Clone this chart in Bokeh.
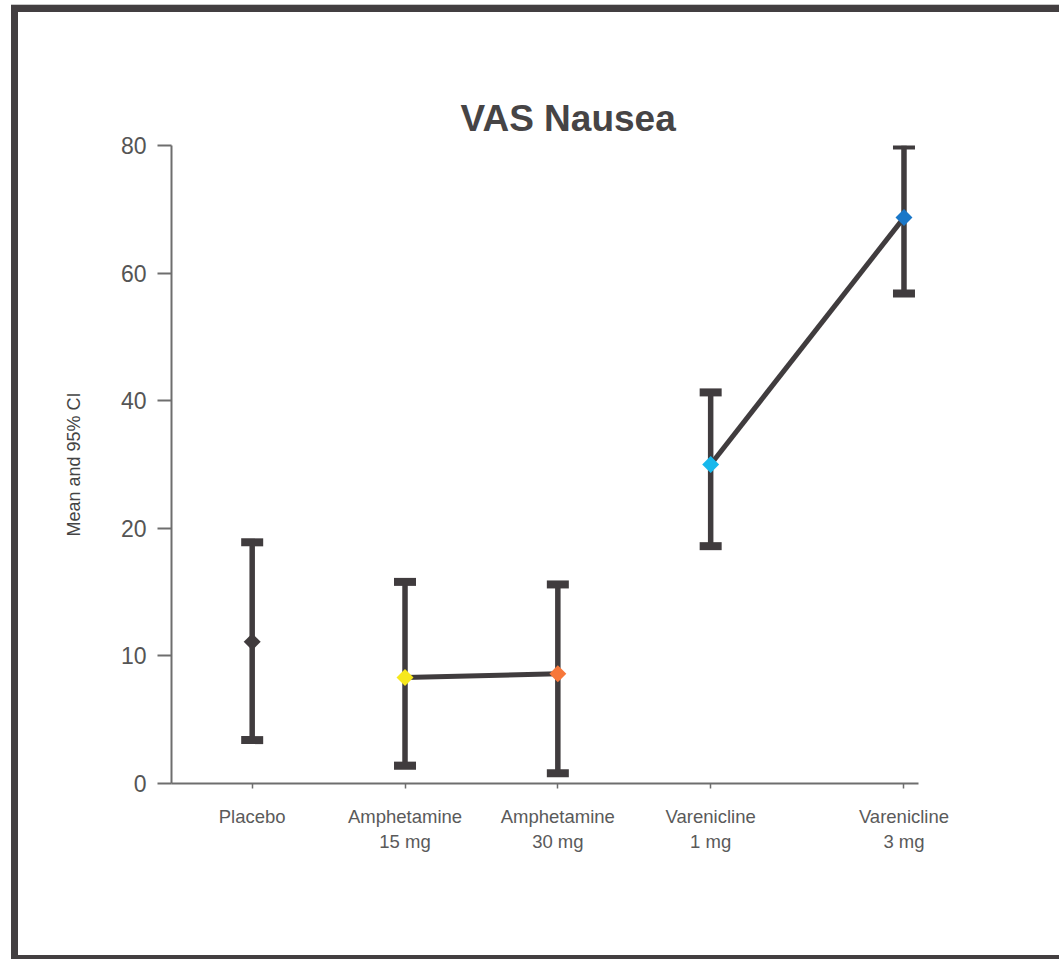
import numpy as np
from bokeh.plotting import figure
from bokeh.models import FixedTicker, Range1d
from bokeh.embed import file_html
from bokeh.resources import INLINE

# ---- data ----
categories = ["Placebo", "Amphetamine\n15 mg", "Amphetamine\n30 mg", "Varenicline\n1 mg", "Varenicline\n3 mg"]
means = [11.1, 8.3, 8.6, 30.0, 68.7]
ci_lower = [3.4, 1.4, 0.8, 18.6, 56.8]
ci_upper = [18.9, 15.8, 15.6, 41.3, 80.3]
marker_colors = ["#403b3d", "#f7e81c", "#f7773a", "#17b8ec", "#1a77c8"]
y_tick_values = [0, 10, 20, 40, 60, 80]
# joined pairs (indices)
links = [(1, 2), (3, 4)]

# ---- layout (category positions on the x axis, uneven like the original) ----
x_pos = [1, 2, 3, 4, 5.265]

# piecewise y axis: tick values are equally spaced
tick_slots = list(range(len(y_tick_values)))
def ymap(v):
    return np.interp(v, y_tick_values, tick_slots)

DARK = "#403c3e"
AXIS = "#6e6e6e"
TXT = "#555555"
FONT = "Liberation Sans"
FRAME = "#433f41"

W, H = 1048, 954
p = figure(width=W, height=H, output_backend="svg", toolbar_location=None,
           x_range=Range1d(0.472, 5.36), y_range=Range1d(0, 5),
           min_border_left=153, min_border_right=148,
           min_border_top=133, min_border_bottom=183)
p.styles = {
    "margin-left": "11px",
    "margin-top": "5px",
    "border-left": f"7px solid {FRAME}",
    "border-top": f"7px solid {FRAME}",
    "border-bottom": f"4px solid {FRAME}",
    "box-shadow": "0 -1px 0 #c8c8c8",
}
p.grid.visible = False
p.outline_line_color = None
p.background_fill_color = "white"
p.border_fill_color = "white"

# title
p.title.text = "VAS Nausea"
p.title.text_font = FONT
p.title.text_font_size = "37px"
p.title.text_font_style = "bold"
p.title.text_color = "#464445"
p.title.align = "left"
p.title.offset = 289
p.title.standoff = 13

# y axis
ya = p.yaxis[0]
ya.ticker = FixedTicker(ticks=tick_slots)
ya.major_label_overrides = {i: str(v) for i, v in zip(tick_slots, y_tick_values)}
ya.axis_line_color = AXIS
ya.axis_line_width = 2
ya.major_tick_line_color = AXIS
ya.major_tick_line_width = 2
ya.major_tick_out = 14
ya.major_tick_in = 0
ya.minor_tick_line_color = None
ya.major_label_text_font = FONT
ya.major_label_text_font_size = "23px"
ya.major_label_text_color = TXT
ya.major_label_standoff = 11
ya.axis_label = "Mean and 95% CI"
ya.axis_label_text_font = FONT
ya.axis_label_text_font_size = "18px"
ya.axis_label_text_font_style = "normal"
ya.axis_label_text_color = "#444444"
ya.axis_label_standoff = 34

# x axis
xa = p.xaxis[0]
xa.ticker = FixedTicker(ticks=x_pos)
xa.major_label_overrides = {x: c for x, c in zip(x_pos, categories)}
xa.axis_line_color = AXIS
xa.axis_line_width = 2
xa.major_tick_line_color = AXIS
xa.major_tick_line_width = 1.5
xa.major_tick_out = 5
xa.major_tick_in = 0
xa.minor_tick_line_color = None
xa.major_label_text_font = FONT
xa.major_label_text_font_size = "18.5px"
xa.major_label_text_color = "#5a5a5a"
xa.major_label_standoff = 17

ym = ymap(means)
yl = ymap(ci_lower)
yu = ymap(ci_upper)

# connecting lines
for a, b in links:
    p.line([x_pos[a], x_pos[b]], [ym[a], ym[b]], line_color=DARK, line_width=5)

# error bar stems
p.segment(x0=x_pos, y0=yl, x1=x_pos, y1=yu, line_color=DARK, line_width=5.5)
# caps
for arr in (yl, yu):
    p.rect(x=x_pos, y=arr, width=22, height=8, width_units="screen",
           height_units="screen", fill_color=DARK, line_color=None)

# mean markers (diamonds)
p.scatter(x=x_pos, y=ym, marker="square", size=12, angle=np.pi / 4,
          fill_color=marker_colors, line_color=None)

open("out.html", "w").write(file_html(p, INLINE))
